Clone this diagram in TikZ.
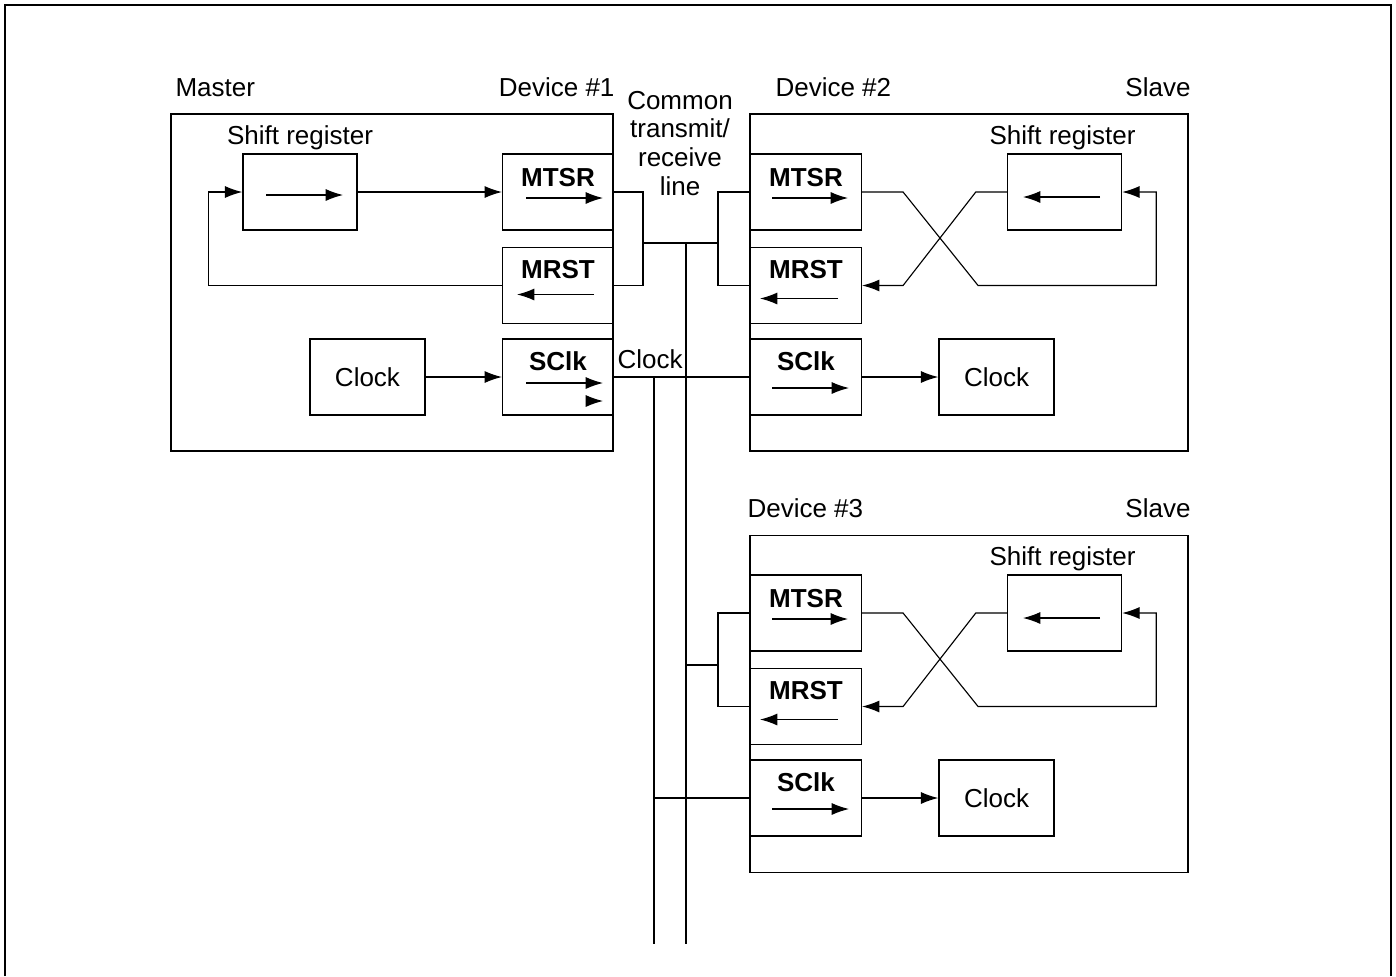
\documentclass[tikz,border=0pt]{standalone}
\usepackage{fontspec}
\setmainfont{Liberation Sans}
\usetikzlibrary{calc,arrows.meta}

\begin{document}
\begin{tikzpicture}[x=0.75pt, y=-0.75pt, >={Latex[length=13pt,width=9pt]},
  every node/.style={inner sep=0pt},
  txt/.style={font=\fontsize{19.5}{21.5}\selectfont, anchor=base},
  bold/.style={font=\fontsize{19.5}{21.5}\selectfont\bfseries, anchor=base},
  devbox/.style={draw, line width=1.1pt, minimum width=#1, minimum height=252.5pt},
  regbox/.style={draw, line width=1.1pt, minimum width=83pt, minimum height=57pt},
  srbox/.style={draw, line width=1.1pt, minimum width=85.5pt, minimum height=57pt},
  clkbox/.style={draw, line width=1.1pt, minimum width=86.25pt, minimum height=57pt, font=\fontsize{19.5}{21.5}\selectfont},
  wire/.style={line width=0.85pt},
  sig/.style={wire, ->}]
  \useasboundingbox (0,0) rectangle (1396,976);
  \draw[line width=1.1pt] (5,976) -- (5,5) -- (1391,5) -- (1391,976);

  % device #1 (master)
  \node[devbox=331.5pt] (dev1) at (392,282.5) {};
  \node[txt, anchor=base west] (mastertxt) at ($(dev1.north west)+(5,-17)$) {Master};
  \node[txt, anchor=base east] (dev1txt) at ($(dev1.north east)+(1,-17)$) {Device \#1};
  \node[srbox] (sr1) at (300,192) {};
  \node[txt] (sr1txt) at ($(sr1.north)+(0,-9)$) {Shift register};
  \node[regbox] (mtsr1) at (558,192) {};
  \node[regbox] (mrst1) at (558,285.5) {};
  \node[regbox] (sclk1) at (558,377) {};
  \node[clkbox] (clk1) at (367.5,377) {Clock};
  \node[bold] at ($(mtsr1.north)+(0,33)$) {MTSR};
  \node[bold] at ($(mrst1.north)+(0,32)$) {MRST};
  \node[bold] at ($(sclk1.north)+(0,32)$) {SClk};
  \draw[sig] ($(sr1.center)+(-34,3)$) -- ($(sr1.center)+(43,3)$);
  \draw[sig] ($(mtsr1.center)+(-32,6)$) -- ($(mtsr1.center)+(45,6)$);
  \draw[sig] ($(mrst1.center)+(36,9)$) -- ($(mrst1.center)+(-41,9)$);
  \draw[sig] ($(sclk1.center)+(-32,6)$) -- ($(sclk1.center)+(45,6)$);
  \draw[sig] ($(sclk1.center)+(35,24)$) -- ($(sclk1.center)+(45,24)$);
  \draw[sig] (sr1.east) -- (mtsr1.west);
  \draw[sig] (mrst1.west) -| ($(sr1.west)+(-34,0)$) -- (sr1.west);
  \draw[sig] (clk1.east) -- (sclk1.west);

  % device #2 (slave)
  \node[devbox=328.5pt] (dev2) at (969,282.5) {};
  \node[txt, anchor=base west] (dev2txt) at ($(dev2.north west)+(26,-17)$) {Device \#2};
  \node[txt, anchor=base east] (slave2txt) at ($(dev2.north east)+(2,-17)$) {Slave};
  \node[srbox] (sr2) at (1064.5,192) {};
  \node[txt] (sr2txt) at ($(sr2.north)+(-2,-9)$) {Shift register};
  \node[regbox] (mtsr2) at (806,192) {};
  \node[regbox] (mrst2) at (806,285.5) {};
  \node[regbox] (sclk2) at (806,377) {};
  \node[clkbox] (clk2) at (996.5,377) {Clock};
  \node[bold] at ($(mtsr2.north)+(0,33)$) {MTSR};
  \node[bold] at ($(mrst2.north)+(0,32)$) {MRST};
  \node[bold] at ($(sclk2.north)+(0,32)$) {SClk};
  \draw[sig] ($(sr2.center)+(35.5,5)$) -- ($(sr2.center)+(-41.5,5)$);
  \draw[sig] ($(mtsr2.center)+(-34,6)$) -- ($(mtsr2.center)+(42,6)$);
  \draw[sig] ($(mrst2.center)+(32,13)$) -- ($(mrst2.center)+(-46,13)$);
  \draw[sig] ($(sclk2.center)+(-34,11)$) -- ($(sclk2.center)+(43,11)$);
  \draw[sig] (mtsr2.east) -- ++(41,0) -- ($(mrst2.east)+(116,0)$) -| ($(sr2.east)+(34,0)$) -- (sr2.east);
  \draw[sig] (sr2.west) -- ++(-31,0) -- ($(mrst2.east)+(41,0)$) -- (mrst2.east);
  \draw[sig] (sclk2.east) -- (clk2.west);

  % device #3 (slave)
  \node[devbox=328.5pt] (dev3) at (969,704) {};
  \node[txt, anchor=base west] (dev3txt) at ($(dev3.north west)+(-2,-17)$) {Device \#3};
  \node[txt, anchor=base east] (slave3txt) at ($(dev3.north east)+(2,-17)$) {Slave};
  \node[srbox] (sr3) at (1064.5,613) {};
  \node[txt] (sr3txt) at ($(sr3.north)+(-2,-9)$) {Shift register};
  \node[regbox] (mtsr3) at (806,613) {};
  \node[regbox] (mrst3) at (806,706.5) {};
  \node[regbox] (sclk3) at (806,798) {};
  \node[clkbox] (clk3) at (996.5,798) {Clock};
  \node[bold] at ($(mtsr3.north)+(0,33)$) {MTSR};
  \node[bold] at ($(mrst3.north)+(0,32)$) {MRST};
  \node[bold] at ($(sclk3.north)+(0,32)$) {SClk};
  \draw[sig] ($(sr3.center)+(35.5,5)$) -- ($(sr3.center)+(-41.5,5)$);
  \draw[sig] ($(mtsr3.center)+(-34,6)$) -- ($(mtsr3.center)+(42,6)$);
  \draw[sig] ($(mrst3.center)+(32,13)$) -- ($(mrst3.center)+(-46,13)$);
  \draw[sig] ($(sclk3.center)+(-34,11)$) -- ($(sclk3.center)+(43,11)$);
  \draw[sig] (mtsr3.east) -- ++(41,0) -- ($(mrst3.east)+(116,0)$) -| ($(sr3.east)+(34,0)$) -- (sr3.east);
  \draw[sig] (sr3.west) -- ++(-31,0) -- ($(mrst3.east)+(41,0)$) -- (mrst3.east);
  \draw[sig] (sclk3.east) -- (clk3.west);

  % common lines
  \node[txt, align=center] (commontxt) at (680,195) {Common\\transmit/\\receive\\line};
  \node[txt] (clocktxt) at (650,368) {Clock};
  \coordinate (j1) at (643,243);
  \coordinate (j2) at (718,243);
  \coordinate (j3) at (718,665);
  \coordinate (txend) at (686,944);
  \coordinate (ckend) at (654,944);
  \draw[wire] (mtsr1.east) -| (j1);
  \draw[wire] (mrst1.east) -| (j1);
  \draw[wire] (mtsr2.west) -| (j2);
  \draw[wire] (mrst2.west) -| (j2);
  \draw[wire] (j1) -- (j2);
  \draw[wire] (txend |- j1) -- (txend);
  \draw[wire] (mtsr3.west) -| (j3);
  \draw[wire] (mrst3.west) -| (j3);
  \draw[wire] (j3) -- (txend |- j3);
  \draw[wire] (sclk1.east) -- (sclk2.west);
  \draw[wire] (ckend |- sclk1.east) -- (ckend);
  \draw[wire] (sclk3.west) -- (ckend |- sclk3.west);
\end{tikzpicture}
\end{document}
